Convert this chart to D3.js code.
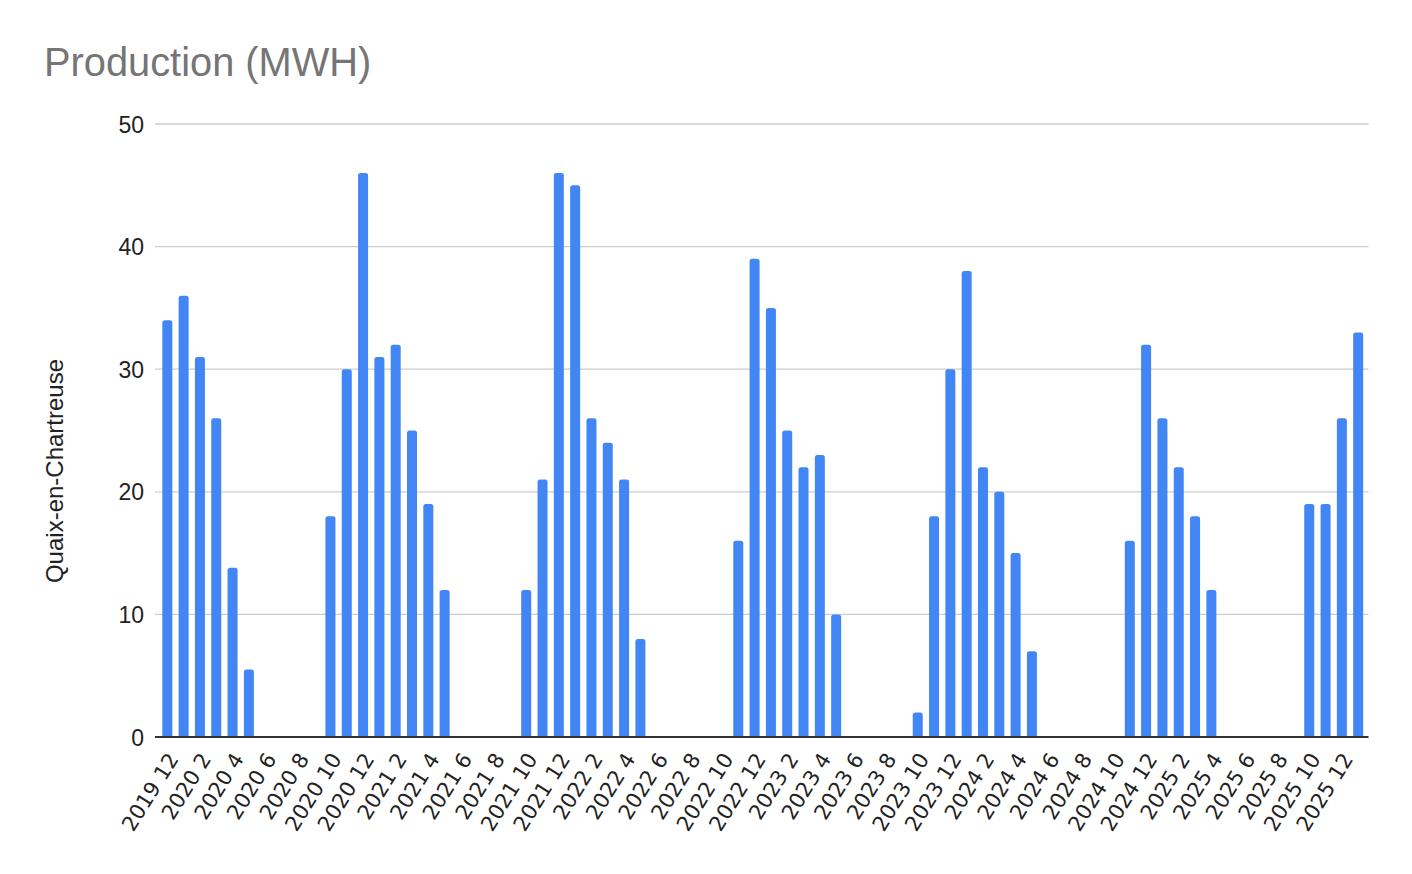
<!DOCTYPE html>
<html>
<head>
<meta charset="utf-8">
<script src="https://cdn.jsdelivr.net/npm/d3@7"></script>
<style>
  html, body { margin: 0; padding: 0; background: #fff; }
  svg { display: block; }
</style>
</head>
<body>
<svg id="chart" width="1412" height="874"></svg>
<script>
const categories = [
  "2019 12",
  "2020 1","2020 2","2020 3","2020 4","2020 5","2020 6","2020 7","2020 8","2020 9","2020 10","2020 11","2020 12",
  "2021 1","2021 2","2021 3","2021 4","2021 5","2021 6","2021 7","2021 8","2021 9","2021 10","2021 11","2021 12",
  "2022 1","2022 2","2022 3","2022 4","2022 5","2022 6","2022 7","2022 8","2022 9","2022 10","2022 11","2022 12",
  "2023 1","2023 2","2023 3","2023 4","2023 5","2023 6","2023 7","2023 8","2023 9","2023 10","2023 11","2023 12",
  "2024 1","2024 2","2024 3","2024 4","2024 5","2024 6","2024 7","2024 8","2024 9","2024 10","2024 11","2024 12",
  "2025 1","2025 2","2025 3","2025 4","2025 5","2025 6","2025 7","2025 8","2025 9","2025 10","2025 11","2025 12",
  "2026 1"
];
const production = [
  34,
  36, 31, 26, 13.8, 5.5, 0, 0, 0, 0, 18, 30, 46,
  31, 32, 25, 19, 12, 0, 0, 0, 0, 12, 21, 46,
  45, 26, 24, 21, 8, 0, 0, 0, 0, 0, 16, 39,
  35, 25, 22, 23, 10, 0, 0, 0, 0, 2, 18, 30,
  38, 22, 20, 15, 7, 0, 0, 0, 0, 0, 16, 32,
  26, 22, 18, 12, 0, 0, 0, 0, 0, 19, 19, 26,
  33
];
const yTicks = [0, 10, 20, 30, 40, 50];
const xTickLabels = categories.filter((d, i) => i % 2 === 0 && d !== "2026 1");

const titleText = "Production (MWH)";
const yAxisTitle = "Quaix-en-Chartreuse";

const svg = d3.select("#chart");
const plotLeft = 156, plotRight = 1369.5, plotTop = 124, plotBottom = 737;

const x = d3.scaleBand().domain(categories).range([plotLeft, plotRight])
  .paddingInner(0.387).paddingOuter(0.387);
const y = d3.scaleLinear().domain([0, 50]).range([plotBottom, plotTop]);

// title
svg.append("text")
  .attr("x", 44).attr("y", 76)
  .attr("font-family", "'Liberation Sans', Arial, sans-serif")
  .attr("font-size", 39.8)
  .attr("fill", "#757575")
  .text(titleText);

// gridlines
svg.append("g").selectAll("line.grid").data(yTicks.filter(d => d !== 0)).enter()
  .append("line")
  .attr("x1", 155).attr("x2", 1368.5)
  .attr("y1", d => y(d)).attr("y2", d => y(d))
  .attr("stroke", "#cccccc").attr("stroke-width", 1.3);

// y tick labels
const yAxis = d3.axisLeft(y).tickValues(yTicks).tickSize(0).tickPadding(0);
const yAx = svg.append("g").attr("transform", "translate(144,0)").call(yAxis);
yAx.select(".domain").remove();
yAx.selectAll("text")
  .attr("font-family", "'Liberation Sans', Arial, sans-serif")
  .attr("font-size", 23)
  .attr("fill", "#222")
  .attr("dy", "0.35em");

// bars with rounded top corners
const r = 2.5;
svg.append("g").selectAll("path.bar")
  .data(categories.map((c, i) => ({c, v: production[i]})).filter(d => d.v > 0))
  .enter().append("path")
  .attr("fill", "#4285f4")
  .attr("d", d => {
    const x0 = x(d.c), w = x.bandwidth(), y0 = y(d.v), yb = y(0);
    const rr = Math.min(r, (yb - y0));
    return `M${x0},${yb}L${x0},${y0 + rr}Q${x0},${y0} ${x0 + rr},${y0}L${x0 + w - rr},${y0}Q${x0 + w},${y0} ${x0 + w},${y0 + rr}L${x0 + w},${yb}Z`;
  });

// baseline
svg.append("line")
  .attr("x1", 155).attr("x2", 1368.5)
  .attr("y1", y(0)).attr("y2", y(0))
  .attr("stroke", "#333").attr("stroke-width", 2);

// x axis labels
const xAxis = d3.axisBottom(x).tickValues(xTickLabels).tickSize(0).tickPadding(0);
const xAx = svg.append("g").attr("transform", `translate(0,${plotBottom})`).call(xAxis);
xAx.select(".domain").remove();
xAx.selectAll(".tick text")
  .attr("font-family", "'DejaVu Sans', sans-serif")
  .attr("font-size", 21)
  .attr("fill", "#222")
  .attr("text-anchor", "end")
  .attr("dy", null)
  .attr("y", null)
  .attr("transform", "translate(12,22) rotate(-58)");

// y axis title
svg.append("text")
  .attr("transform", "translate(63,471) rotate(-90)")
  .attr("text-anchor", "middle")
  .attr("font-family", "'Liberation Sans', Arial, sans-serif")
  .attr("font-size", 24)
  .attr("fill", "#222")
  .text(yAxisTitle);
</script>
</body>
</html>
